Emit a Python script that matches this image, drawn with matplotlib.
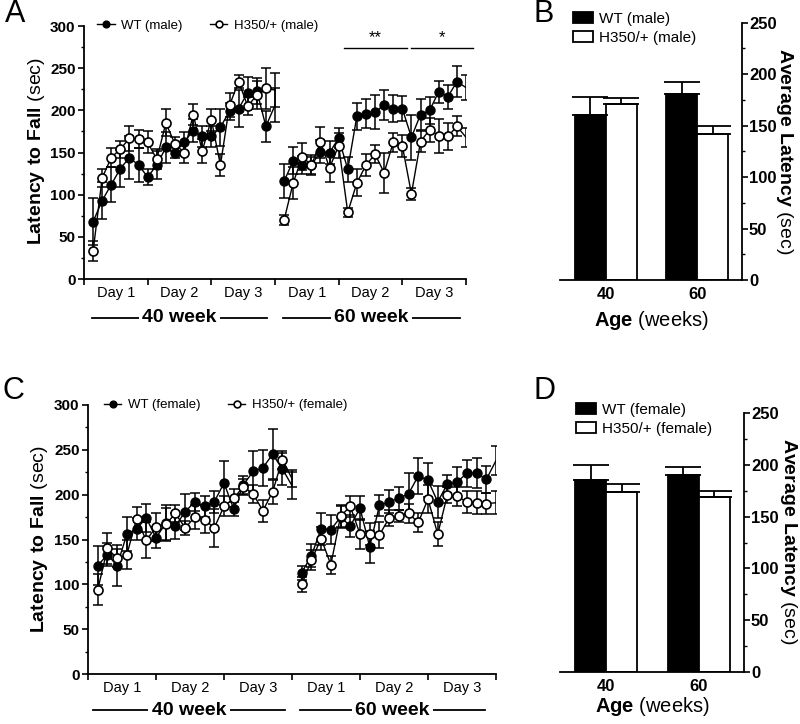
import numpy as np
import matplotlib
matplotlib.use("Agg")
import matplotlib.pyplot as plt
from matplotlib.ticker import MultipleLocator, FixedLocator, FixedFormatter, NullFormatter

plt.rcParams["font.family"] = ["Liberation Sans", "DejaVu Sans"]
plt.rcParams["mathtext.fontset"] = "custom"
plt.rcParams["mathtext.rm"] = "Liberation Sans"
plt.rcParams["mathtext.bf"] = "Liberation Sans:bold"

# ---- data ----
day_labels = ["Day 1", "Day 2", "Day 3", "Day 1", "Day 2", "Day 3"]
age_groups = ["40 week", "60 week"]
trials_40 = np.arange(1, 22)
trials_60 = np.arange(22, 43)

# males, 40 weeks
m_wt_40 = [68, 93, 112, 131, 144, 135, 121, 135, 156, 150, 162, 176, 169, 169,
           180, 199, 202, 221, 223, 181, 206]
m_wt_40_err = [28, 22, 21, 22, 26, 20, 10, 17, 18, 7, 12, 14, 13, 13,
               22, 10, 22, 18, 15, 18, 20]
m_h_40 = [33, 120, 144, 154, 167, 166, 162, 142, 185, 160, 150, 195, 152, 189,
          135, 206, 234, 205, 218, 226, 224]
m_h_40_err = [12, 11, 11, 10, 15, 11, 13, 12, 16, 8, 13, 12, 14, 13,
              13, 14, 8, 11, 17, 24, 20]
# males, 60 weeks
m_wt_60 = [116, 140, 135, 135, 151, 150, 167, 130, 193, 196, 198, 206, 202, 202,
           168, 195, 200, 222, 216, 234, 227]
m_wt_60_err = [20, 16, 11, 10, 14, 14, 12, 15, 16, 17, 20, 18, 16, 15,
               27, 18, 16, 13, 14, 18, 15]
m_h_60 = [70, 114, 145, 135, 162, 132, 158, 79, 114, 135, 148, 126, 162, 158,
          101, 163, 177, 170, 169, 181, 168]
m_h_60_err = [6, 19, 16, 12, 18, 17, 15, 5, 16, 13, 11, 24, 11, 13,
              7, 12, 14, 20, 16, 12, 11]

# females, 40 weeks
f_wt_40 = [121, 133, 121, 156, 162, 174, 152, 168, 165, 181, 192, 187, 192, 213,
           184, 211, 226, 230, 245, 229, 210]
f_wt_40_err = [22, 13, 23, 19, 12, 16, 12, 20, 14, 20, 10, 12, 12, 25,
               8, 10, 23, 20, 28, 18, 15]
f_h_40 = [94, 140, 129, 133, 173, 149, 164, 167, 179, 163, 175, 172, 163, 187,
          196, 209, 201, 182, 203, 239, 218]
f_h_40_err = [17, 17, 10, 16, 13, 20, 16, 18, 10, 8, 13, 15, 21, 11,
              10, 9, 10, 12, 13, 10, 10]
# females, 60 weeks
f_wt_60 = [113, 132, 162, 161, 175, 165, 185, 142, 188, 192, 196, 201, 221, 216,
           192, 212, 214, 224, 224, 217, 238]
f_wt_60_err = [8, 13, 18, 16, 12, 12, 13, 18, 12, 13, 13, 23, 20, 19,
               18, 10, 17, 15, 17, 15, 16]
f_h_60 = [100, 127, 151, 122, 176, 187, 156, 156, 155, 174, 176, 179, 169, 195,
          156, 200, 198, 192, 191, 190, 191]
f_h_60_err = [8, 11, 13, 10, 12, 12, 17, 12, 15, 9, 7, 11, 11, 16,
              13, 9, 11, 12, 13, 12, 13]

# average latency bars
ages = ["40", "60"]
m_wt_avg = [160, 181]
m_wt_avg_err = [18, 11]
m_h_avg = [171, 142]
m_h_avg_err = [5.5, 8]
f_wt_avg = [185, 190]
f_wt_avg_err = [15, 7.5]
f_h_avg = [173.5, 169]
f_h_avg_err = [7.5, 6]

W, H = 800, 724
fig = plt.figure(figsize=(W / 100, H / 100), dpi=100)


def px_axes(left, right, top, bottom):
    return fig.add_axes([left / W, 1 - bottom / H, (right - left) / W, (bottom - top) / H])


def trial_panel(ax, wt40, wt40e, h40, h40e, wt60, wt60e, h60, h60e, labels, leg_x,
                span40, span60, group_y):
    handles = []
    for x, y, e in [(trials_40, wt40, wt40e), (trials_60, wt60, wt60e)]:
        ax.errorbar(x, y, yerr=e, fmt="none", ecolor="black", elinewidth=1.1,
                    capsize=3.5, capthick=1.1, zorder=2)
        ln, = ax.plot(x, y, color="black", lw=1.0, marker="o", ms=6.5, mfc="black",
                      mec="black", markevery=list(range(20)), zorder=3)
    handles.append(ln)
    for x, y, e in [(trials_40, h40, h40e), (trials_60, h60, h60e)]:
        ax.errorbar(x, y, yerr=e, fmt="none", ecolor="black", elinewidth=1.1,
                    capsize=3.5, capthick=1.1, zorder=4)
        ln, = ax.plot(x, y, color="black", lw=1.0, marker="o", ms=6.5, mfc="white",
                      mec="black", mew=1.2, markevery=list(range(20)), zorder=5)
    handles.append(ln)
    ax.set_xlim(0, 42)
    ax.set_ylim(0, 300)
    for s in ["top", "right"]:
        ax.spines[s].set_visible(False)
    for s in ["left", "bottom"]:
        ax.spines[s].set_linewidth(1.3)
    ax.yaxis.set_major_locator(MultipleLocator(50))
    ax.yaxis.set_minor_locator(MultipleLocator(25))
    ax.xaxis.set_major_locator(MultipleLocator(7))
    ax.xaxis.set_major_formatter(NullFormatter())
    ax.xaxis.set_minor_locator(FixedLocator([3.5, 10.5, 17.5, 24.5, 31.5, 38.5]))
    ax.xaxis.set_minor_formatter(FixedFormatter(day_labels))
    ax.tick_params(axis="y", which="major", length=4, width=1.2, labelsize=11, pad=2)
    ax.tick_params(axis="y", which="minor", length=2.5, width=1.0)
    ax.tick_params(axis="x", which="major", length=4.5, width=1.2)
    ax.tick_params(axis="x", which="minor", length=0, labelsize=10.5, pad=5)
    for t in ax.get_yticklabels():
        t.set_fontweight("bold")
    # age group labels under the day labels
    trans = ax.get_xaxis_transform()
    for (a, b), name in zip([span40, span60], age_groups):
        ax.plot([a, b], [group_y, group_y], color="black", lw=1.3, transform=trans, clip_on=False)
        ax.text((a + b) / 2, group_y, name, transform=trans, ha="center", va="center",
                fontsize=14, fontweight="bold",
                bbox=dict(facecolor="white", edgecolor="none", pad=2.5))
    ax.legend(handles, labels, ncol=2, frameon=False, fontsize=9.5, loc="center left",
              bbox_to_anchor=(leg_x, 1.0), borderpad=0, borderaxespad=0,
              handlelength=1.3, handletextpad=0.5, columnspacing=2.1, markerscale=0.75)


def bar_panel(ax, wt, wte, h, he, labels, xlabel_pad):
    x = np.arange(len(ages))
    w = 0.337
    ax.bar(x - w / 2, wt, w, color="black", edgecolor="black", lw=1.3,
           yerr=[[0] * len(wte), wte], error_kw=dict(capsize=13, elinewidth=1.3, capthick=1.3),
           label=labels[0])
    ax.bar(x + w / 2, h, w, color="white", edgecolor="black", lw=1.3,
           yerr=[[0] * len(he), he], error_kw=dict(capsize=13, elinewidth=1.3, capthick=1.3),
           label=labels[1])
    ax.set_xlim(-0.5, 1.49)
    ax.set_ylim(0, 250)
    ax.set_xticks(x)
    ax.set_xticklabels(ages, fontsize=12, fontweight="bold")
    ax.tick_params(axis="x", length=0, pad=5)
    ax.yaxis.tick_right()
    ax.yaxis.set_major_locator(MultipleLocator(50))
    ax.yaxis.set_minor_locator(MultipleLocator(25))
    ax.tick_params(axis="y", which="major", length=4, width=1.2, labelsize=12, pad=1)
    ax.tick_params(axis="y", which="minor", length=2.5, width=1.0)
    for t in ax.get_yticklabels():
        t.set_fontweight("bold")
    for s in ["top", "left"]:
        ax.spines[s].set_visible(False)
    for s in ["right", "bottom"]:
        ax.spines[s].set_linewidth(1.3)
    ax.set_xlabel(r"$\mathbf{Age}$ (weeks)", fontsize=14.5, labelpad=xlabel_pad)


# ---- panel A ----
axA = px_axes(84, 466, 26, 279)
trial_panel(axA, m_wt_40, m_wt_40_err, m_h_40, m_h_40_err,
            m_wt_60, m_wt_60_err, m_h_60, m_h_60_err,
            ["WT (male)", "H350/+ (male)"], 0.035, (0.9, 20.1), (21.9, 41.3), -0.154)
# significance markers
for (a, b), star in zip([(28.6, 35.5), (36.0, 42.8)], ["**", "*"]):
    axA.plot([a, b], [273.5, 273.5], color="black", lw=1.0, clip_on=False)
    axA.text((a + b) / 2, 277, star, ha="center", va="bottom", fontsize=12)
fig.text(37 / W, 1 - 151 / H, r"$\mathbf{Latency\ to\ Fall}$ (sec)", rotation=90,
         ha="center", va="center", fontsize=14)

# ---- panel B ----
axB = px_axes(560, 742, 22.7, 280)
bar_panel(axB, m_wt_avg, m_wt_avg_err, m_h_avg, m_h_avg_err, ["WT (male)", "H350/+ (male)"], 5)
axB.legend(frameon=False, fontsize=11, loc="upper left", bbox_to_anchor=(573 / W, 1 - 12 / H),
           bbox_transform=fig.transFigure, borderpad=0, borderaxespad=0,
           handlelength=1.3, handleheight=0.75, handletextpad=0.4, labelspacing=0.3)
fig.text(785 / W, 1 - 151 / H, r"$\mathbf{Average\ Latency}$ (sec)", rotation=270,
         ha="center", va="center", fontsize=14)

# ---- panel C ----
axC = px_axes(88, 496, 405, 674)
trial_panel(axC, f_wt_40, f_wt_40_err, f_h_40, f_h_40_err,
            f_wt_60, f_wt_60_err, f_h_60, f_h_60_err,
            ["WT (female)", "H350/+ (female)"], 0.04, (0.5, 20.3), (21.8, 40.9), -0.134)
fig.text(40 / W, 1 - 539 / H, r"$\mathbf{Latency\ to\ Fall}$ (sec)", rotation=90,
         ha="center", va="center", fontsize=14)

# ---- panel D ----
axD = px_axes(560, 744, 413, 672)
bar_panel(axD, f_wt_avg, f_wt_avg_err, f_h_avg, f_h_avg_err, ["WT (female)", "H350/+ (female)"], 1)
axD.legend(frameon=False, fontsize=11, loc="upper left", bbox_to_anchor=(576 / W, 1 - 403 / H),
           bbox_transform=fig.transFigure, borderpad=0, borderaxespad=0,
           handlelength=1.3, handleheight=0.75, handletextpad=0.4, labelspacing=0.3)
fig.text(788 / W, 1 - 541 / H, r"$\mathbf{Average\ Latency}$ (sec)", rotation=270,
         ha="center", va="center", fontsize=14)

# panel letters
for lx, ly, letter in [(15, 14, "A"), (544, 14, "B"), (13, 391, "C"), (545, 391, "D")]:
    fig.text(lx / W, 1 - ly / H, letter, fontsize=22, ha="center", va="center")

fig.savefig("out.png", dpi=100)
